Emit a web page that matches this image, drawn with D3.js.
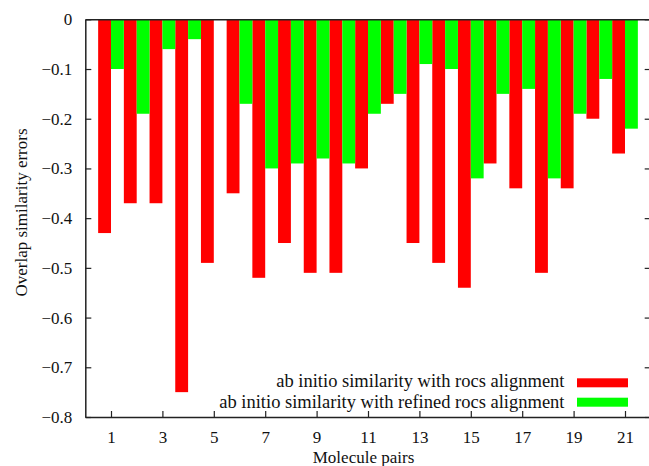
<!DOCTYPE html>
<html>
<head>
<meta charset="utf-8">
<script src="https://cdn.jsdelivr.net/npm/d3@7"></script>
<style>
  html, body { margin: 0; padding: 0; background: #fff; }
  svg { display: block; font-family: "Liberation Serif", "Times New Roman", serif; }
</style>
</head>
<body>
<svg id="chart" width="649" height="466"></svg>
<script>
const pairs = d3.range(1, 22);
const rocs = [-0.43, -0.37, -0.37, -0.75, -0.49, -0.35, -0.52, -0.45, -0.51, -0.51, -0.30,
              -0.17, -0.45, -0.49, -0.54, -0.29, -0.34, -0.51, -0.34, -0.20, -0.27];
const refined = [-0.10, -0.19, -0.06, -0.04, 0.00, -0.17, -0.30, -0.29, -0.28, -0.29, -0.19,
                 -0.15, -0.09, -0.10, -0.32, -0.15, -0.14, -0.32, -0.19, -0.12, -0.22];
const xTicks = [1, 3, 5, 7, 9, 11, 13, 15, 17, 19, 21];
const yTicks = [0, -0.1, -0.2, -0.3, -0.4, -0.5, -0.6, -0.7, -0.8];
const seriesNames = ["ab initio similarity with rocs alignment",
                     "ab initio similarity with refined rocs alignment"];
const seriesColors = ["#ff0000", "#00ff00"];

const svg = d3.select("#chart");
const x = d3.scaleLinear().domain([0, 22]).range([85.3, 650.7]);
const y = d3.scaleLinear().domain([0, -0.8]).range([19.3, 417]);
const halfW = 0.5;

// bars
const series = [rocs, refined];
series.forEach((vals, s) => {
  svg.append("g").selectAll("rect").data(vals).join("rect")
    .attr("x", (d, i) => s === 0 ? x(pairs[i] - halfW) : x(pairs[i]))
    .attr("width", (d, i) => x(pairs[i] + halfW) - x(pairs[i]))
    .attr("y", y(0))
    .attr("height", d => y(d) - y(0))
    .attr("fill", seriesColors[s]);
});

const fmt = d => d === 0 ? "0" : d.toFixed(1).replace("-", "\u2212");
const axisColor = "#222";

// left axis
const gl = svg.append("g").attr("transform", `translate(${x(0)},0)`)
  .call(d3.axisLeft(y).tickValues(yTicks).tickFormat(fmt).tickSizeInner(-6).tickSizeOuter(0).tickPadding(13));
// right axis (ticks only)
const gr = svg.append("g").attr("transform", `translate(${x(22)},0)`)
  .call(d3.axisRight(y).tickValues(yTicks).tickFormat("").tickSizeInner(-6).tickSizeOuter(0));
// bottom axis
const gb = svg.append("g").attr("transform", `translate(0,${y(-0.8)})`)
  .call(d3.axisBottom(x).tickValues(xTicks).tickFormat(d3.format("d")).tickSizeInner(-6).tickSizeOuter(0).tickPadding(14));
// top line
const gt = svg.append("g").attr("transform", `translate(0,${y(0)})`)
  .call(d3.axisTop(x).tickValues([]).tickSizeOuter(0));

[gl, gr, gb, gt].forEach(g => {
  g.selectAll("path.domain").attr("stroke", axisColor).attr("stroke-width", 1.5);
  g.selectAll(".tick line").attr("stroke", axisColor).attr("stroke-width", 1.2);
  g.selectAll("text").attr("font-family", "Liberation Serif, serif").attr("font-size", 17).attr("fill", "#111");
});

// axis titles
svg.append("text")
  .attr("x", 363.5).attr("y", 463)
  .attr("text-anchor", "middle").attr("font-size", 17).attr("fill", "#111")
  .text("Molecule pairs");
svg.append("text")
  .attr("transform", `translate(27,212.5) rotate(-90)`)
  .attr("text-anchor", "middle").attr("font-size", 17).attr("fill", "#111")
  .text("Overlap similarity errors");

// legend
const legend = svg.append("g");
seriesNames.forEach((name, i) => {
  const cy = 382.8 + i * 19.4;
  legend.append("text")
    .attr("x", 564.5).attr("y", 387 + i * 20.6)
    .attr("text-anchor", "end").attr("font-size", 18.5).attr("fill", "#111")
    .text(name);
  legend.append("rect")
    .attr("x", 577).attr("y", cy - 4.5).attr("width", 51).attr("height", 9)
    .attr("fill", seriesColors[i]);
});
</script>
</body>
</html>
